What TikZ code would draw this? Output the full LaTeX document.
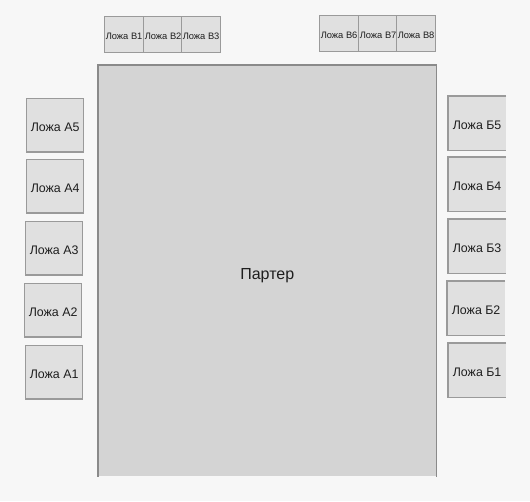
\documentclass[tikz,border=0pt]{standalone}
\usepackage{fontspec}
\setmainfont{Liberation Sans}
\begin{document}
\begin{tikzpicture}[x=0.75pt,y=-0.75pt,
  box/.style={draw=boxline,fill=boxfill,line width=0.9pt,inner sep=0pt,anchor=north west,text=textc},
  topbox/.style={box,minimum width=29.25pt,minimum height=27pt,font=\fontsize{7pt}{8pt}\selectfont,text height=8pt,text depth=0pt},
  sidebox/.style={box,minimum width=42.75pt,minimum height=40pt,font=\fontsize{9.3pt}{10pt}\selectfont,text height=9.7pt,text depth=0pt},
  openbox/.style={sidebox,draw=none},
  edge/.style={draw=boxline,line width=0.9pt}]
\definecolor{bg}{HTML}{F7F7F7}
\definecolor{boxfill}{HTML}{E0E0E0}
\definecolor{boxline}{HTML}{9A9A9A}
\definecolor{parfill}{HTML}{D4D4D4}
\definecolor{parline}{HTML}{8A8A8A}
\definecolor{textc}{HTML}{1E1E1E}
\useasboundingbox[fill=bg] (0,0) rectangle (530,501);
% Parter
\node[fill=parfill,inner sep=0pt,anchor=north west,minimum width=253.5pt,minimum height=308.25pt,text=textc,font=\fontsize{12pt}{14pt}\selectfont,text height=13.6pt,text depth=0pt] (par) at (98,65) {Партер};
\draw[draw=parline,line width=0.9pt] (par.south west) -- (par.north west) -- (par.north east) -- (par.south east);
% top boxes
\node[topbox] (v1) at (104,16) {Ложа В1};
\node[topbox] (v2) at (143,16) {Ложа В2};
\node[topbox] (v3) at (181,16) {Ложа В3};
\node[topbox] (v6) at (319,15) {Ложа В6};
\node[topbox] (v7) at (358,15) {Ложа В7};
\node[topbox] (v8) at (396,15) {Ложа В8};
% left boxes
\node[sidebox] (a5) at (26,98) {Ложа А5};
\node[sidebox] (a4) at (26,159) {Ложа А4};
\node[sidebox] (a3) at (25,221) {Ложа А3};
\node[sidebox] (a2) at (24,283) {Ложа А2};
\node[sidebox] (a1) at (25,345) {Ложа А1};
% right boxes (clipped at right edge)
\foreach \n/\t/\xx/\yy in {b5/Ложа Б5/448/96, b4/Ложа Б4/448/157, b3/Ложа Б3/448/219, b2/Ложа Б2/447/281, b1/Ложа Б1/448/343}{
  \node[openbox,fill=boxfill] (\n) at (\xx,\yy) {\t};
  \draw[edge] (\n.north east) -- (\n.north west) -- (\n.south west) -- (\n.south east);
}
\end{tikzpicture}
\end{document}
